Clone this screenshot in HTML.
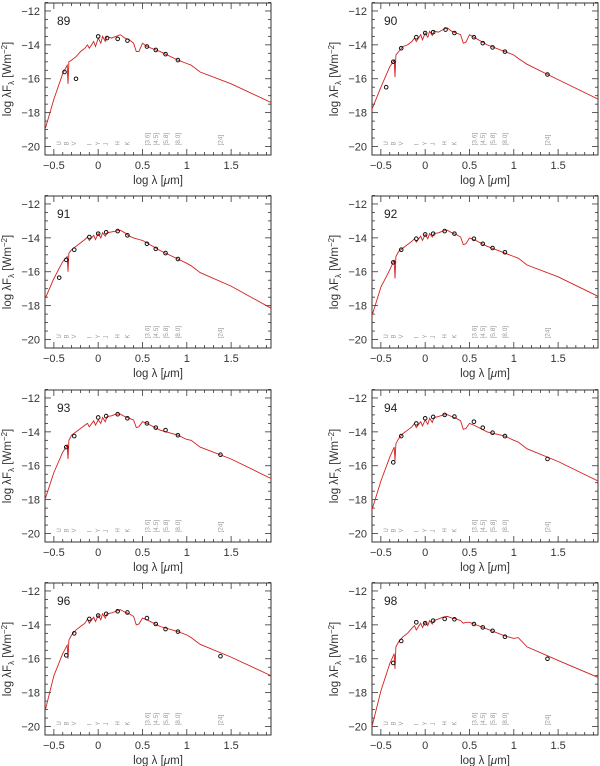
<!DOCTYPE html>
<html><head><meta charset="utf-8"><style>
html,body{margin:0;padding:0;background:#fff}
svg{display:block;font-family:"Liberation Sans",sans-serif}
</style></head><body>
<svg id="fig" width="600" height="766" viewBox="0 0 600 766"></svg>
<script>
const modelX=[-0.6,-0.5,-0.4,-0.35,-0.34,-0.33,-0.3,-0.25,-0.2,-0.15,-0.12,-0.1,-0.05,-0.03,0,0.03,0.05,0.08,0.1,0.15,0.2,0.25,0.3,0.35,0.4,0.43,0.46,0.5,0.55,0.7,0.9,1.0,1.05,1.15,1.5,1.95];
const panelIds=["89","90","91","92","93","94","96","98"];
const model89=[-19.0,-17.2,-15.7,-15.2,-16.3,-15.0,-14.9,-14.7,-14.4,-14.2,-14.0,-14.2,-13.8,-14.1,-13.6,-13.9,-13.5,-13.8,-13.5,-13.6,-13.5,-13.4,-13.6,-13.7,-13.9,-14.4,-14.4,-13.9,-14.1,-14.4,-14.9,-15.1,-15.2,-15.6,-16.3,-17.4];
const model90=[-17.8,-16.5,-15.3,-14.9,-15.9,-14.6,-14.4,-14.1,-14.0,-13.8,-13.6,-13.8,-13.4,-13.7,-13.3,-13.55,-13.2,-13.45,-13.2,-13.25,-13.1,-13.0,-13.2,-13.3,-13.4,-13.9,-13.85,-13.4,-13.55,-14.0,-14.4,-14.6,-14.8,-15.15,-16.05,-17.2];
const model91=[-17.6,-16.4,-15.4,-15.1,-16.0,-14.9,-14.7,-14.5,-14.3,-14.1,-13.95,-14.15,-13.85,-14.1,-13.75,-14.0,-13.7,-13.9,-13.7,-13.65,-13.6,-13.55,-13.7,-13.9,-14.0,-14.05,-14.1,-14.15,-14.3,-14.75,-15.25,-15.5,-15.65,-16.05,-16.85,-18.15];
const model92=[-18.6,-16.9,-15.9,-15.3,-16.4,-15.1,-14.8,-14.6,-14.4,-14.2,-14.05,-14.25,-13.9,-14.15,-13.8,-14.05,-13.75,-13.95,-13.75,-13.7,-13.6,-13.55,-13.7,-13.8,-13.95,-14.4,-14.35,-14.0,-14.1,-14.5,-14.9,-15.1,-15.2,-15.6,-16.3,-17.45];
const model93=[-18.0,-16.4,-15.2,-14.8,-15.6,-14.5,-14.2,-14.0,-13.8,-13.6,-13.5,-13.7,-13.35,-13.6,-13.3,-13.5,-13.15,-13.4,-13.1,-13.05,-12.95,-12.95,-13.1,-13.2,-13.3,-13.75,-13.7,-13.4,-13.5,-13.9,-14.2,-14.45,-14.5,-14.9,-15.6,-16.75];
const model94=[-18.6,-16.9,-15.5,-14.9,-15.7,-14.7,-14.4,-14.1,-13.9,-13.7,-13.5,-13.75,-13.4,-13.65,-13.3,-13.55,-13.2,-13.45,-13.15,-13.1,-13.0,-12.98,-13.1,-13.2,-13.35,-13.85,-13.8,-13.5,-13.6,-14.0,-14.25,-14.5,-14.6,-15.0,-15.75,-16.9];
const model96=[-19.1,-17.0,-15.7,-15.2,-16.0,-14.9,-14.6,-14.3,-14.1,-13.9,-13.65,-13.9,-13.55,-13.8,-13.45,-13.7,-13.35,-13.6,-13.35,-13.3,-13.2,-13.1,-13.25,-13.35,-13.5,-14.0,-13.95,-13.6,-13.7,-14.1,-14.4,-14.6,-14.75,-15.15,-15.9,-17.0];
const model98=[-20.0,-17.9,-16.3,-15.7,-16.6,-15.3,-15.0,-14.7,-14.5,-14.2,-14.05,-14.3,-13.9,-14.15,-13.85,-14.05,-13.75,-13.95,-13.75,-13.65,-13.55,-13.5,-13.6,-13.65,-13.75,-13.9,-13.85,-13.85,-13.95,-14.25,-14.65,-14.8,-14.75,-15.3,-16.1,-17.1];
const obsX89=[-0.38,-0.25,0.0,0.1,0.22,0.33,0.55,0.65,0.76,0.9];
const obsY89=[-15.6,-16.0,-13.5,-13.6,-13.65,-13.75,-14.1,-14.3,-14.55,-14.9];
const obsX90=[-0.44,-0.36,-0.27,-0.1,0.0,0.09,0.23,0.33,0.55,0.65,0.76,0.9,1.38];
const obsY90=[-16.5,-15.0,-14.2,-13.55,-13.3,-13.25,-13.1,-13.3,-13.55,-13.9,-14.15,-14.4,-15.75];
const obsX91=[-0.44,-0.36,-0.27,-0.1,0.0,0.09,0.22,0.33,0.55,0.65,0.76,0.9];
const obsY91=[-16.35,-15.3,-14.7,-13.95,-13.75,-13.67,-13.6,-13.85,-14.35,-14.65,-14.9,-15.25];
const obsX92=[-0.36,-0.27,-0.1,0.0,0.09,0.22,0.33,0.55,0.65,0.76,0.9];
const obsY92=[-15.45,-14.7,-14.05,-13.8,-13.75,-13.6,-13.75,-14.05,-14.35,-14.6,-14.85];
const obsX93=[-0.36,-0.27,0.0,0.09,0.22,0.33,0.55,0.65,0.76,0.9,1.38];
const obsY93=[-14.9,-14.25,-13.15,-13.07,-12.96,-13.2,-13.5,-13.75,-13.9,-14.2,-15.35];
const obsX94=[-0.36,-0.27,-0.1,0.0,0.09,0.22,0.33,0.55,0.65,0.76,0.9,1.38];
const obsY94=[-15.8,-14.25,-13.5,-13.2,-13.12,-13.0,-13.1,-13.4,-13.75,-14.05,-14.25,-15.6];
const obsX96=[-0.36,-0.27,-0.1,0.0,0.09,0.22,0.33,0.55,0.65,0.76,0.9,1.38];
const obsY96=[-15.8,-14.5,-13.65,-13.45,-13.35,-13.2,-13.27,-13.6,-13.95,-14.25,-14.4,-15.85];
const obsX98=[-0.36,-0.27,-0.1,0.0,0.09,0.22,0.33,0.55,0.65,0.76,0.9,1.38];
const obsY98=[-16.25,-14.95,-13.85,-13.9,-13.75,-13.65,-13.67,-13.95,-14.15,-14.35,-14.7,-16.0];
const xTicks=[-0.5,0,0.5,1,1.5];
const xTickLabels=["\u22120.5","0","0.5","1","1.5"];
const yTicks=[-12,-14,-16,-18,-20];
const yTickLabels=["\u221212","\u221214","\u221216","\u221218","\u221220"];
const bandNames=["U","B","V","I","Y","J","H","K"];
const bandX=[-0.44,-0.36,-0.27,-0.1,0.0,0.09,0.22,0.33];
const iracNames=["[3.6]","[4.5]","[5.8]","[8.0]","[24]"];
const iracX=[0.556,0.653,0.763,0.903,1.38];

const models=[model89,model90,model91,model92,model93,model94,model96,model98];
const obsXs=[obsX89,obsX90,obsX91,obsX92,obsX93,obsX94,obsX96,obsX98];
const obsYs=[obsY89,obsY90,obsY91,obsY92,obsY93,obsY94,obsY96,obsY98];

const NS="http://www.w3.org/2000/svg";
const svg=document.getElementById('fig');
function mk(tag,attrs,parent){const e=document.createElementNS(NS,tag);for(const k in attrs)e.setAttribute(k,attrs[k]);parent.appendChild(e);return e;}
const XMIN=-0.6,XMAX=1.95,YMIN=-20.5,YMAX=-11.53,W=226,H=152;
const colX=[45,372],rowY=[3,196,390,583];

panelIds.forEach((id,i)=>{
  const L=colX[i%2],T=rowY[Math.floor(i/2)];
  const sx=v=>L+(v-XMIN)/(XMAX-XMIN)*W;
  const sy=v=>T+(YMAX-v)/(YMAX-YMIN)*H;
  const g=mk('g',{},svg);
  
  
  const fr=mk('rect',{x:L,y:T,width:W,height:H,fill:'none',stroke:'#333','stroke-width':1},g);
  
  
  for(let k=-5;k<=19;k++){const v=k/10;const x=sx(v);const maj=(k%5===0);const len=maj?6:3;
    mk('line',{x1:x,y1:T+H,x2:x,y2:T+H-len,stroke:'#333','stroke-width':0.8},g);
    mk('line',{x1:x,y1:T,x2:x,y2:T+len,stroke:'#333','stroke-width':0.8},g);}
  for(let k=-40;k<=-23;k++){const v=k/2;const y=sy(v);const maj=(k%4===0);const len=maj?6:3;
    mk('line',{x1:L,y1:y,x2:L+len,y2:y,stroke:'#333','stroke-width':0.8},g);
    mk('line',{x1:L+W,y1:y,x2:L+W-len,y2:y,stroke:'#333','stroke-width':0.8},g);}
  xTicks.forEach((v,j)=>{const t=mk('text',{x:sx(v),y:T+H+14,'font-size':11,fill:'#333','text-anchor':'middle'},g);t.textContent=xTickLabels[j];
    
    });
  yTicks.forEach((v,j)=>{const t=mk('text',{x:L-5,y:sy(v)+4,'font-size':11,fill:'#333','text-anchor':'end'},g);t.textContent=yTickLabels[j];
    
    });
  const xt=mk('text',{x:L+W/2,y:T+H+29,'font-size':11.5,fill:'#333','text-anchor':'middle'},g);
  xt.innerHTML='log &#955; [<tspan font-style="italic">&#956;</tspan>m]';
  
  
  const yx=L-34,yy=T+H/2;
  const yt=mk('text',{x:yx,y:yy,'font-size':11.5,fill:'#333','text-anchor':'middle',transform:`rotate(-90 ${yx} ${yy})`},g);
  yt.innerHTML='log &#955;F<tspan font-size="8" dy="3">&#955;</tspan><tspan dy="-3"> [Wm</tspan><tspan font-size="8" dy="-4">&#8722;2</tspan><tspan dy="4">]</tspan>';
  
  
  const lab=mk('text',{x:L+12,y:T+22,'font-size':12,fill:'#222'},g);lab.textContent=id;
  
  
  const by=sy(-20)-1;
  bandNames.forEach((b,j)=>{const x=sx(bandX[j])+2;const t=mk('text',{x:x,y:by,'font-size':6,fill:'#999',transform:`rotate(-90 ${x} ${by})`},g);t.textContent=b;
    
    });
  iracNames.forEach((b,j)=>{const x=sx(iracX[j])+2;const t=mk('text',{x:x,y:by,'font-size':6.5,fill:'#999',transform:`rotate(-90 ${x} ${by})`},g);t.textContent=b;
    
    });
  const cp=mk('clipPath',{id:'cp'+i},g);mk('rect',{x:L,y:T,width:W,height:H},cp);
  const m=models[i];
  const d=modelX.map((x,j)=>(j?'L':'M')+sx(x).toFixed(1)+','+sy(m[j]).toFixed(1)).join(' ');
  const p=mk('path',{d:d,fill:'none',stroke:'#d42020','stroke-width':0.9,'clip-path':`url(#cp${i})`},g);
  
  
  obsXs[i].forEach((x,j)=>{const c=mk('circle',{cx:sx(x),cy:sy(obsYs[i][j]),r:1.8,fill:'none',stroke:'#111','stroke-width':1},g);
    
    });
});
</script>
</body></html>
